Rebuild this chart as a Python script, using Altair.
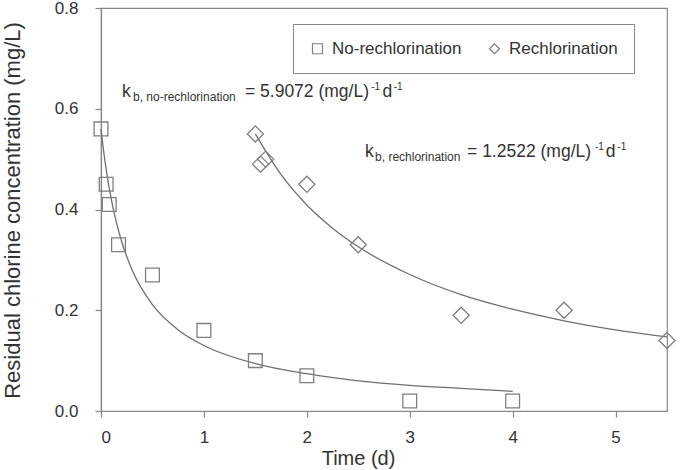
import altair as alt
import pandas as pd

# ---- data ----
series_names = ["No-rechlorination", "Rechlorination"]

no_rech_t = [0, 0.05, 0.08, 0.17, 0.5, 1, 1.5, 2, 3, 4]
no_rech_c = [0.56, 0.45, 0.41, 0.33, 0.27, 0.16, 0.10, 0.07, 0.02, 0.02]

rech_t = [1.5, 1.55, 1.6, 2, 2.5, 3.5, 4.5, 5.5]
rech_c = [0.55, 0.49, 0.50, 0.45, 0.33, 0.19, 0.20, 0.14]

# fitted curves
no_rech_fit_t = [0, 0.02, 0.05, 0.1, 0.15, 0.2, 0.3, 0.5, 0.75, 1, 1.5, 2, 2.5, 3, 3.5, 4]
no_rech_fit_c = [0.56, 0.525, 0.48, 0.42, 0.374, 0.337, 0.281, 0.211, 0.161, 0.130, 0.094, 0.074, 0.060, 0.051, 0.045, 0.039]

rech_fit_t = [1.5, 1.75, 2, 2.25, 2.5, 3, 3.5, 4, 4.5, 5, 5.5]
rech_fit_c = [0.55, 0.469, 0.409, 0.363, 0.326, 0.271, 0.231, 0.202, 0.179, 0.161, 0.147]

x_ticks = [0, 1, 2, 3, 4, 5]
y_ticks = [0.0, 0.2, 0.4, 0.6, 0.8]

# annotation pieces: text, x (d), y (mg/L), font size
ann_text = ["k", "b, no-rechlorination", "= 5.9072 (mg/L)", "-1", "d", "-1",
            "k", "b, rechlorination", "= 1.2522 (mg/L)", "-1", "d", "-1"]
ann_x = [0.204, 0.311, 1.399, 2.625, 2.735, 2.845,
         2.565, 2.663, 3.557, 4.80, 4.905, 5.017]
ann_y = [0.6233, 0.6154, 0.6233, 0.6372, 0.6233, 0.6372,
         0.5042, 0.4963, 0.5042, 0.518, 0.5042, 0.518]
ann_size = [17.5, 12, 17.5, 10, 17.5, 10,
            17.5, 12, 17.5, 10, 17.5, 10]

FONT = "Liberation Sans"
GREY = "#7f7f7f"
TEXT = "#333333"

pts = pd.concat([
    pd.DataFrame({"t": no_rech_t, "c": no_rech_c, "series": series_names[0]}),
    pd.DataFrame({"t": rech_t, "c": rech_c, "series": series_names[1]}),
])
fit = pd.concat([
    pd.DataFrame({"t": no_rech_fit_t, "c": no_rech_fit_c, "series": series_names[0]}),
    pd.DataFrame({"t": rech_fit_t, "c": rech_fit_c, "series": series_names[1]}),
])
ann = pd.DataFrame({"text": ann_text, "x": ann_x, "y": ann_y, "size": ann_size})

x_scale = alt.Scale(domain=[0, 5.5], nice=False, zero=False)
y_scale = alt.Scale(domain=[0, 0.8], nice=False)

x_axis = alt.Axis(values=x_ticks, title="Time (d)", grid=False, tickSize=6,
                  labelPadding=12, labelFontSize=17, titleFontSize=20,
                  titleX=257, titleY=37, titleFontWeight="normal", format="d")
y_axis = alt.Axis(values=y_ticks, title="Residual chlorine concentration (mg/L)",
                  grid=False, tickSize=6, labelPadding=17, labelFontSize=17,
                  titleFontSize=22, format=".1f", titleX=-77, titleY=202,
                  titleFontWeight="normal")

shape_scale = alt.Scale(domain=series_names, range=["square", "diamond"])

lines = alt.Chart(fit).mark_line(color="#6f6f6f", strokeWidth=1.3, interpolate="monotone").encode(
    x=alt.X("t:Q", scale=x_scale, axis=x_axis),
    y=alt.Y("c:Q", scale=y_scale, axis=y_axis),
    detail="series:N",
)

sq = alt.Chart(pts[pts.series == series_names[0]]).mark_point(
    filled=False, color=GREY, strokeWidth=1.3, size=190, opacity=1
).encode(
    x=alt.X("t:Q", scale=x_scale),
    y=alt.Y("c:Q", scale=y_scale),
    shape=alt.Shape("series:N", scale=shape_scale,
                    legend=alt.Legend(title=None, orient="none", direction="horizontal",
                                      legendX=192, legendY=16, strokeColor="#888888",
                                      padding=16, symbolSize=100, symbolStrokeColor=GREY,
                                      symbolStrokeWidth=1.2, labelFontSize=17,
                                      labelColor=TEXT, columnPadding=24, labelOffset=6,
                                      fillColor="white", labelFont=FONT)),
)
di = alt.Chart(pts[pts.series == series_names[1]]).mark_point(
    filled=False, color=GREY, strokeWidth=1.3, size=260, opacity=1
).encode(
    x=alt.X("t:Q", scale=x_scale),
    y=alt.Y("c:Q", scale=y_scale),
    shape=alt.Shape("series:N", scale=shape_scale),
)

texts = alt.Chart(ann).mark_text(align="left", baseline="alphabetic", color=TEXT, font=FONT).encode(
    x=alt.X("x:Q", scale=x_scale),
    y=alt.Y("y:Q", scale=y_scale),
    text="text:N",
    size=alt.Size("size:Q", scale=None, legend=None),
)

chart = alt.layer(lines, sq, di, texts).properties(
    width=566, height=403,
    autosize=alt.AutoSizeParams(type="none"),
    padding={"left": 101, "top": 8, "right": 23, "bottom": 59},
    background="white",
).configure_view(
    stroke="#888888", strokeWidth=1.2
).configure_axis(
    domainColor="#888888", tickColor="#888888", domainWidth=1.2, tickWidth=1.2,
    labelColor=TEXT, titleColor=TEXT, labelFont=FONT, titleFont=FONT,
)

chart.save("out.html", embed_options={"renderer": "svg", "actions": False})
